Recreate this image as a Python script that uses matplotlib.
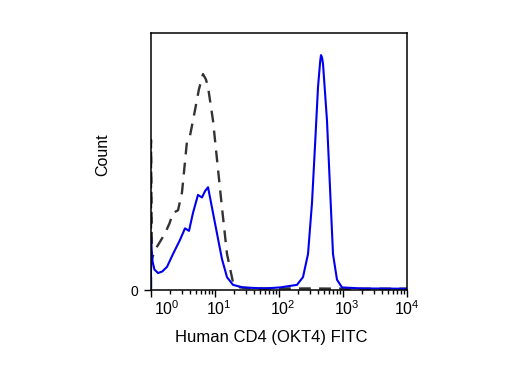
import matplotlib
matplotlib.use('Agg')
import matplotlib.pyplot as plt
import matplotlib.transforms as mtransforms
from matplotlib.ticker import LogLocator, NullFormatter

plt.rcParams['font.family'] = ['Liberation Sans', 'DejaVu Sans']

# isotype control (dashed) - % of axis height
ctrl_x = [1.0, 1.0, 1.03, 1.155, 1.4, 1.654, 1.95, 2.207, 2.642, 3.05, 3.4, 3.652, 4.067,
          4.87, 5.6, 6.49, 7.2, 7.78, 9.30, 11.14, 12.86, 15.4, 19.1, 24.6, 40,
          100, 300, 1000, 10000]
ctrl_y = [0.5, 58.4, 12, 15.6, 19, 22, 26, 30, 31, 38, 50, 58, 60,
          70, 78, 84, 82, 79, 66, 47, 32, 14, 3, 1.0, 0.6,
          0.6, 0.6, 0.5, 0.5]

# OKT4 FITC stained (solid blue)
cd4_x = [1.0, 1.0, 1.02, 1.06, 1.13, 1.286, 1.5, 1.778, 2.207, 2.839, 3.398, 3.924,
         4.53, 5.42, 6.26, 7.0, 7.78, 8.98, 10.74, 12.86, 15.4, 19.1, 27.4, 60,
         103.7, 191, 237, 284, 328, 365, 407, 440, 453, 470, 487, 562, 626, 698,
         806, 965, 2000, 10000]
cd4_y = [0.5, 20, 16, 11, 8, 6.6, 7.2, 9, 14, 19.5, 24, 23,
         30, 37, 36, 38.5, 40, 32, 22, 12, 5, 2, 1, 0.6,
         1, 2, 5, 14, 34, 56, 79, 89, 91.4, 90.5, 88, 66, 40, 14,
         4, 1, 0.6, 0.5]

tick_vals = [1, 10, 100, 1000, 10000]
tick_labels = [r'$\mathregular{10^{0}}$', r'$\mathregular{10^{1}}$', r'$\mathregular{10^{2}}$',
               r'$\mathregular{10^{3}}$', r'$\mathregular{10^{4}}$']

fig = plt.figure(figsize=(5.11, 3.83), dpi=100)
ax = fig.add_axes([151 / 511, 93 / 383, 256 / 511, 257 / 383])

ax.plot(ctrl_x, ctrl_y, color='#333333', linewidth=1.7, linestyle=(0, (5, 3.5)))
ax.plot(cd4_x, cd4_y, color='#0000ee', linewidth=1.5)

ax.set_xscale('log')
ax.set_xlim(1, 10000)
ax.set_ylim(0, 100)
ax.set_xticks(tick_vals)
ax.set_xticklabels(tick_labels)
ax.xaxis.set_minor_locator(LogLocator(base=10, subs=range(2, 10), numticks=20))
ax.xaxis.set_minor_formatter(NullFormatter())
ax.set_yticks([0])
ax.set_yticklabels(['0'])

ax.tick_params(axis='both', which='major', direction='out', length=5, width=1,
               labelsize=11.5, colors='black')
ax.tick_params(axis='x', which='major', pad=1.5)
ax.tick_params(axis='y', which='major', pad=4, labelsize=10)
ax.tick_params(axis='x', which='minor', direction='out', length=3, width=1)
for s in ax.spines.values():
    s.set_linewidth(1.1)
    s.set_color('black')

# first decade label sits right of the corner, the others slightly right of tick
for i, lab in enumerate(ax.get_xticklabels()):
    dx = 16 if i == 0 else (4 if i < 4 else 0)
    lab.set_transform(lab.get_transform() + mtransforms.ScaledTranslation(dx / 100, 0, fig.dpi_scale_trans))

ax.set_xlabel('Human CD4 (OKT4) FITC', fontsize=12)
ax.xaxis.set_label_coords(0.469, -0.155)
ax.set_ylabel('Count', fontsize=11.5)
ax.yaxis.set_label_coords(-0.16, 0.525)

fig.savefig('out.png', dpi=100)
